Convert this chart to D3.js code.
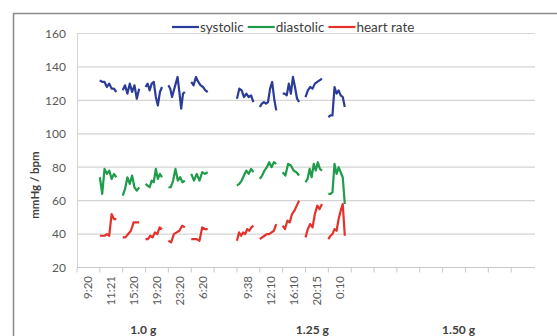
<!DOCTYPE html>
<html>
<head>
<meta charset="utf-8">
<script src="https://cdn.jsdelivr.net/npm/d3@7.9.0/dist/d3.min.js"></script>
<style>
  body { margin: 0; background: #fff; }
  svg { display: block; font-family: Lato, 'Open Sans', sans-serif; }
</style>
</head>
<body>
<svg id="chart" width="557" height="336"></svg>
<script>
// time-of-day label for each slot on the category axis (20 slots)
const slotLabels = ['9:20', '11:21', '15:20', '19:20', '23:20', '6:20', '',
  '9:38', '12:10', '16:10', '20:15', '0:10', '', '', '', '', '', '', '', ''];

// dose groups and the slot each group label sits on
const groups = ['1.0 g', '1.25 g', '1.50 g'];
const groupSlots = [2.9, 10.3, 16.7];

const yTicks = [20, 40, 60, 80, 100, 120, 140, 160];

// slots that hold a run of readings
const segSlots = [1, 2, 3, 4, 5, 7, 8, 9, 10, 11];

const systolic = [
  [132, 131, 131, 128, 130, 127, 127, 125],
  [126, 129, 124, 130, 125, 129, 121, 127],
  [128, 130, 126, 130, 131, 122, 117, 125, 128],
  [129, 127, 122, 126, 130, 134, 125, 115, 124, 125],
  [131, 129, 134, 131, 129, 128, 126, 125],
  [121, 127, 126, 122, 124, 122, 123, 119],
  [116, 118, 119, 118, 119, 127, 131, 121, 114],
  [124, 124, 123, 130, 124, 134, 128, 121, 119],
  [122, 126, 128, 127, 130, 131, 132, 133],
  [110, 111, 111, 128, 124, 126, 123, 122, 116]
];

const diastolic = [
  [74, 64, 79, 76, 78, 73, 76, 74],
  [63, 67, 74, 70, 75, 68, 66, 68],
  [70, 69, 68, 72, 71, 79, 73, 76, 74],
  [68, 68, 72, 79, 72, 74, 71, 72],
  [76, 72, 76, 72, 77, 76, 77],
  [69, 70, 72, 75, 78, 76, 79, 77],
  [73, 75, 78, 80, 83, 80, 83, 82],
  [77, 75, 82, 81, 78, 77, 75],
  [71, 73, 79, 74, 82, 78, 83, 79, 78],
  [64, 64, 65, 82, 76, 80, 77, 74, 58]
];

const heartRate = [
  [39, 39, 39, 40, 39, 52, 49, 49],
  [38, 38, 40, 42, 47, 47, 47],
  [37, 37, 39, 38, 41, 40, 44, 43],
  [36, 35, 40, 41, 42, 45, 44],
  [37, 37, 37, 36, 44, 43, 43],
  [36, 41, 39, 41, 40, 43, 42, 44, 45],
  [37, 38, 39, 40, 40, 41, 42, 46],
  [45, 43, 48, 47, 52, 54, 57, 60],
  [38, 43, 46, 44, 52, 57, 55, 58],
  [37, 39, 40, 43, 42, 49, 54, 58, 39]
];

const seriesNames = ['systolic', 'diastolic', 'heart rate'];
const seriesData = [systolic, diastolic, heartRate];
const colors = ['#2b3c98', '#1e9c4a', '#e4322b'];

const svg = d3.select('#chart');

// chart frame
svg.append('rect')
  .attr('x', 13.5).attr('y', 13.5)
  .attr('width', 600).attr('height', 400)
  .attr('fill', 'none').attr('stroke', '#8a8a8a').attr('stroke-width', 1.5);

const x = d3.scaleLinear().domain([0, slotLabels.length]).range([77, 534]);
const y = d3.scaleLinear().domain([20, 160]).range([267.5, 33.5]);

// gridlines
svg.append('g')
  .selectAll('line')
  .data(yTicks.slice(1))
  .enter()
  .append('line')
  .attr('x1', x(0)).attr('x2', x(slotLabels.length) + 1)
  .attr('y1', (d) => y(d)).attr('y2', (d) => y(d))
  .attr('stroke', '#d4d4d4').attr('stroke-width', 1.2);

// y axis
const yAxis = svg.append('g')
  .attr('transform', `translate(${x(0)},0)`)
  .call(d3.axisLeft(y).tickValues(yTicks).tickSize(0).tickPadding(11));
yAxis.select('.domain').attr('stroke', '#d4d4d4');
yAxis.selectAll('text')
  .attr('fill', '#595959').style('font-size', '12px')
  .style('font-family', 'Lato, sans-serif');

// x axis line and ticks on slot boundaries
const xAxis = svg.append('g');
xAxis.append('line')
  .attr('x1', x(0)).attr('x2', x(slotLabels.length) + 1)
  .attr('y1', y(20)).attr('y2', y(20))
  .attr('stroke', '#c8c8c8').attr('stroke-width', 1.2);
xAxis.selectAll('.tick')
  .data(d3.range(slotLabels.length))
  .enter()
  .append('line')
  .attr('x1', (d) => x(d)).attr('x2', (d) => x(d))
  .attr('y1', y(20)).attr('y2', y(20) + 5)
  .attr('stroke', '#c8c8c8');

xAxis.selectAll('.lbl')
  .data(slotLabels)
  .enter()
  .append('text')
  .attr('transform', (d, i) => `translate(${x(i + 0.5) + 4},276) rotate(-90)`)
  .attr('text-anchor', 'end')
  .attr('fill', '#595959')
  .style('font-size', '11.5px')
  .text((d) => d);

// dose group labels
svg.selectAll('.grp')
  .data(groups)
  .enter()
  .append('text')
  .attr('x', (d, i) => x(groupSlots[i]))
  .attr('y', 334)
  .attr('text-anchor', 'middle')
  .attr('fill', '#404040')
  .style('font-size', '12px')
  .style('font-weight', 'bold')
  .text((d) => d);

// y axis title
svg.append('text')
  .attr('transform', 'translate(39,185) rotate(-90)')
  .attr('text-anchor', 'middle')
  .attr('fill', '#404040')
  .style('font-size', '11.5px')
  .style('font-weight', 'bold')
  .text('mmHg / bpm');

// series lines, one path per run of readings
const line = d3.line()
  .x((d) => x(d.pos))
  .y((d) => y(d.value));

seriesData.forEach((series, s) => {
  const g = svg.append('g');
  series.forEach((vals, k) => {
    const pts = vals.map((v, i) => ({
      pos: segSlots[k] + (i / (vals.length - 1)) * 0.72,
      value: v
    }));
    g.append('path')
      .attr('d', line(pts))
      .attr('fill', 'none')
      .attr('stroke', colors[s])
      .attr('stroke-width', 2.2)
      .attr('stroke-linejoin', 'round');
  });
});

// legend
const legend = svg.append('g').attr('transform', 'translate(172,27)');
let lx = 0;
seriesNames.forEach((name, i) => {
  legend.append('line')
    .attr('x1', lx).attr('x2', lx + 27)
    .attr('y1', 0).attr('y2', 0)
    .attr('stroke', colors[i]).attr('stroke-width', 2.2);
  const t = legend.append('text')
    .attr('x', lx + 28).attr('y', 5)
    .attr('fill', '#404040')
    .style('font-size', '13.5px')
    .text(name);
  lx += 28 + t.node().getComputedTextLength() + 4;
});
</script>
</body>
</html>
